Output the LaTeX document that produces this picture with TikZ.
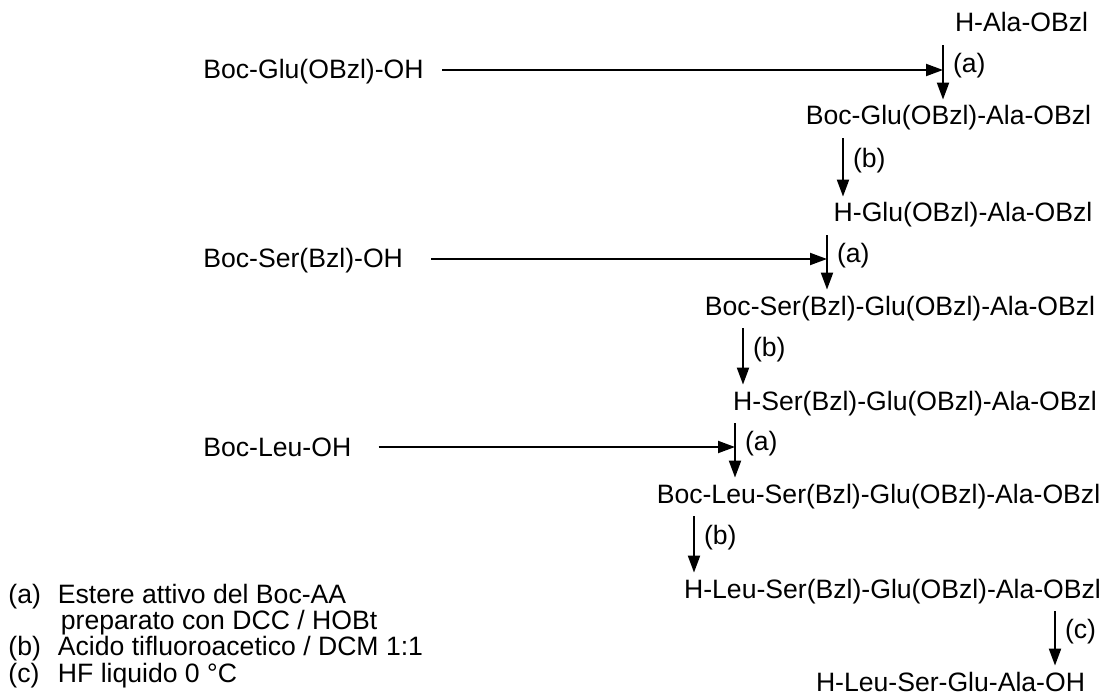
\documentclass[tikz,border=0pt]{standalone}
\usepackage{fontspec}
\setmainfont{Liberation Sans}
\usetikzlibrary{arrows.meta,positioning}

\begin{document}
\begin{tikzpicture}[x=0.5pt,y=-0.5pt,
  font=\fontsize{13.3pt}{15pt}\selectfont,
  product/.style={inner sep=0pt,text height=9pt,text depth=3pt,anchor=base},
  reagent/.style={inner sep=0pt,text height=9pt,text depth=0pt,anchor=base west},
  rxn/.style={-{Triangle[length=8.5pt,width=6pt]},line width=1pt},
  cond/.style={right=4.5pt,pos=0.4,inner sep=0pt}]
  \useasboundingbox (0,0) rectangle (1102,695);

  % Intermedi
  \node[product] (ala) at (1021.5,32) {H-Ala-OBzl};
  \node[product] (gluala) at (948.5,125) {Boc-Glu(OBzl)-Ala-OBzl};
  \node[product] (hgluala) at (963,222) {H-Glu(OBzl)-Ala-OBzl};
  \node[product] (sergluala) at (900,315) {Boc-Ser(Bzl)-Glu(OBzl)-Ala-OBzl};
  \node[product] (hsergluala) at (915,410) {H-Ser(Bzl)-Glu(OBzl)-Ala-OBzl};
  \node[product] (leusergluala) at (878.5,503) {Boc-Leu-Ser(Bzl)-Glu(OBzl)-Ala-OBzl};
  \node[product] (hleusergluala) at (892.5,598) {H-Leu-Ser(Bzl)-Glu(OBzl)-Ala-OBzl};
  \node[product] (peptide) at (950.5,691) {H-Leu-Ser-Glu-Ala-OH};

  % Amminoacidi protetti
  \node[reagent] (bocglu) at (203,79) {Boc-Glu(OBzl)-OH};
  \node[reagent] (bocser) at (203,268) {Boc-Ser(Bzl)-OH};
  \node[reagent] (bocleu) at (203,456) {Boc-Leu-OH};

  \coordinate (ca1) at (943,0);
  \coordinate (cb1) at (843,0);
  \coordinate (ca2) at (827,0);
  \coordinate (cb2) at (743,0);
  \coordinate (ca3) at (735,0);
  \coordinate (cb3) at (694,0);
  \coordinate (cc) at (1055,0);

  % Accoppiamento 1
  \draw[rxn,shorten <=9pt] (bocglu.east) -- (bocglu.east -| ca1);
  \draw[rxn,shorten <=3.5pt,shorten >=3.5pt] (ca1 |- ala.south) -- (ca1 |- gluala.north) node[cond] {(a)};
  \draw[rxn,shorten <=3.5pt,shorten >=3.5pt] (cb1 |- gluala.south) -- (cb1 |- hgluala.north) node[cond] {(b)};

  % Accoppiamento 2
  \draw[rxn,shorten <=14pt] (bocser.east) -- (bocser.east -| ca2);
  \draw[rxn,shorten <=3.5pt,shorten >=3.5pt] (ca2 |- hgluala.south) -- (ca2 |- sergluala.north) node[cond] {(a)};
  \draw[rxn,shorten <=3.5pt,shorten >=3.5pt] (cb2 |- sergluala.south) -- (cb2 |- hsergluala.north) node[cond] {(b)};

  % Accoppiamento 3
  \draw[rxn,shorten <=13.5pt] (bocleu.east) -- (bocleu.east -| ca3);
  \draw[rxn,shorten <=3.5pt,shorten >=3.5pt] (ca3 |- hsergluala.south) -- (ca3 |- leusergluala.north) node[cond] {(a)};
  \draw[rxn,shorten <=3.5pt,shorten >=3.5pt] (cb3 |- leusergluala.south) -- (cb3 |- hleusergluala.north) node[cond] {(b)};

  % Sblocco finale
  \draw[rxn,shorten <=3.5pt,shorten >=3.5pt] (cc |- hleusergluala.south) -- (cc |- peptide.north) node[cond] {(c)};

  % Legenda
  \node[inner sep=0pt,anchor=base west,font=\fontsize{13.3pt}{12pt}\selectfont] (legend) at (8,603)
    {\begin{tabular}[t]{@{}l@{\hspace{8.5pt}}l@{}}
      (a) & Estere attivo del Boc-AA\\
          & \hspace{1.5pt}preparato con DCC / HOBt\\
      (b) & Acido tifluoroacetico / DCM 1:1\\
      (c) & HF liquido 0~°C
    \end{tabular}};
\end{tikzpicture}
\end{document}
